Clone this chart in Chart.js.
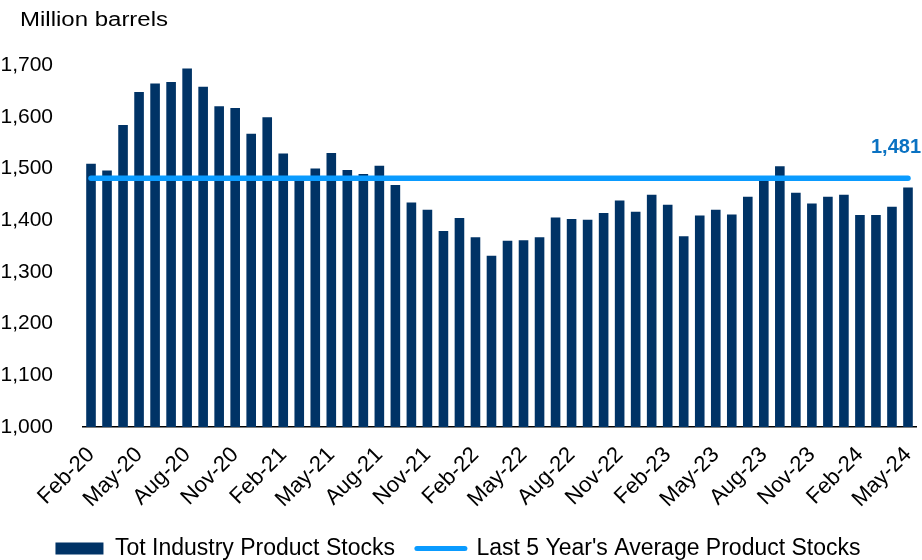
<!DOCTYPE html>
<html>
<head>
<meta charset="utf-8">
<script src="https://cdn.jsdelivr.net/npm/chart.js@4.4.1/dist/chart.umd.min.js"></script>
<style>
  html, body { margin: 0; padding: 0; background: #ffffff; }
  #wrap { width: 922px; height: 560px; position: relative; }
</style>
</head>
<body>
<div id="wrap"><canvas id="c" width="922" height="560"></canvas></div>
<script>
const months = [
  "Feb-20","Mar-20","Apr-20","May-20","Jun-20","Jul-20","Aug-20","Sep-20","Oct-20","Nov-20","Dec-20",
  "Jan-21","Feb-21","Mar-21","Apr-21","May-21","Jun-21","Jul-21","Aug-21","Sep-21","Oct-21","Nov-21","Dec-21",
  "Jan-22","Feb-22","Mar-22","Apr-22","May-22","Jun-22","Jul-22","Aug-22","Sep-22","Oct-22","Nov-22","Dec-22",
  "Jan-23","Feb-23","Mar-23","Apr-23","May-23","Jun-23","Jul-23","Aug-23","Sep-23","Oct-23","Nov-23","Dec-23",
  "Jan-24","Feb-24","Mar-24","Apr-24","May-24"
];
const productStocks = [
  1509,1496,1584,1648,1664,1667,1693,1658,1620,1617,1567,
  1599,1529,1478,1500,1530,1497,1489,1505,1468,1434,1420,1379,
  1404,1367,1331,1360,1361,1367,1405,1402,1401,1414,1438,1416,
  1449,1430,1369,1409,1420,1411,1445,1478,1504,1453,1432,1445,
  1449,1410,1410,1426,1463
];
const fiveYearAverage = 1481;
const averageLine = months.map(() => fiveYearAverage);
const yTicks = [1000, 1100, 1200, 1300, 1400, 1500, 1600, 1700];

const FONT = "'Liberation Sans', Arial, sans-serif";

const extras = {
  id: 'extras',
  afterDraw(chart) {
    const ctx = chart.ctx;
    const ys = chart.scales.y;
    ctx.save();
    ctx.fillStyle = '#000000';
    ctx.font = "20px " + FONT;
    ctx.textBaseline = 'alphabetic';
    ctx.textAlign = 'left';
    ctx.save();
    ctx.translate(20, 26);
    ctx.scale(1.2, 1);
    ctx.fillText('Million barrels', 0, 0);
    ctx.restore();
    ctx.fillStyle = '#0A72C2';
    ctx.font = "bold 20px " + FONT;
    ctx.textAlign = 'right';
    ctx.textBaseline = 'middle';
    ctx.fillText('1,481', chart.width - 1, ys.getPixelForValue(fiveYearAverage) - 31);
    ctx.restore();
  }
};

new Chart(document.getElementById('c'), {
  data: {
    labels: months,
    datasets: [
      {
        type: 'line',
        label: "Last 5 Year's Average Product Stocks",
        data: averageLine,
        borderColor: '#0A9BFF',
        backgroundColor: '#0A9BFF',
        borderWidth: 5.5,
        borderCapStyle: 'round',
        pointRadius: 0,
        pointHoverRadius: 0,
        fill: false,
        order: 0
      },
      {
        type: 'bar',
        label: 'Tot Industry Product Stocks',
        data: productStocks,
        backgroundColor: '#003366',
        borderWidth: 0,
        barPercentage: 0.6,
        categoryPercentage: 1.0,
        order: 1
      }
    ]
  },
  options: {
    responsive: false,
    animation: false,
    layout: { padding: { top: 65, left: 0, right: 6, bottom: -10 } },
    scales: {
      x: {
        offset: true,
        grid: { display: false, drawTicks: false },
        border: { display: true, color: '#000000', width: 1.5 },
        afterFit: (s) => { s.paddingLeft = 0; s.paddingRight = 0; s.height = 88; },
        ticks: {
          autoSkip: false,
          maxRotation: 45,
          minRotation: 45,
          padding: 15,
          color: '#000000',
          font: { family: FONT, size: 22 },
          callback: function(value, index) { return index % 3 === 0 ? months[index] : ''; }
        }
      },
      y: {
        min: 1000,
        max: 1700,
        afterBuildTicks: (axis) => { axis.ticks = yTicks.map(v => ({ value: v })); },
        afterFit: (s) => { s.width = 83; },
        grid: { display: false, drawTicks: false },
        border: { display: false },
        ticks: {
          padding: 30,
          color: '#000000',
          font: { family: FONT, size: 21 },
          callback: (v) => v.toLocaleString('en-US')
        }
      }
    },
    plugins: {
      title: { display: false },
      tooltip: { enabled: false },
      legend: {
        display: true,
        position: 'bottom',
        labels: {
          color: '#000000',
          font: { family: FONT, size: 23 },
          usePointStyle: true,
          pointStyleWidth: 48,
          boxHeight: 12,
          padding: 22,
          generateLabels: (chart) => {
            const ds = chart.data.datasets;
            return [
              { text: ds[1].label, fillStyle: '#003366', strokeStyle: '#003366', lineWidth: 0, pointStyle: 'rect', datasetIndex: 1, fontColor: '#000000' },
              { text: ds[0].label, fillStyle: '#0A9BFF', strokeStyle: '#0A9BFF', lineWidth: 5, lineCap: 'round', pointStyle: 'line', datasetIndex: 0, fontColor: '#000000' }
            ];
          }
        }
      }
    }
  },
  plugins: [extras]
});
</script>
</body>
</html>
